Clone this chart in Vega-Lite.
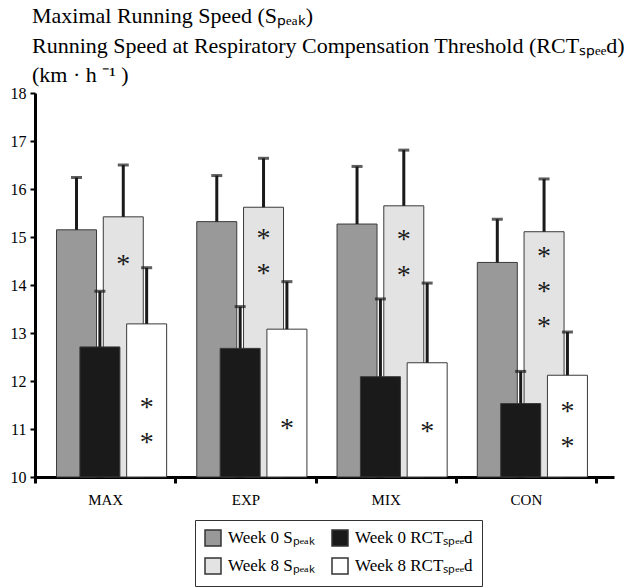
{
  "$schema": "https://vega.github.io/schema/vega-lite/v6.json",
  "width": 579,
  "height": 384,
  "autosize": {"type": "none"},
  "padding": {"left": 35, "top": 93, "right": 19, "bottom": 110},
  "background": "white",
  "config": {
    "view": {"stroke": null},
    "font": "Liberation Serif",
    "axis": {"labelFont": "Liberation Serif", "labelColor": "black", "domainColor": "black", "tickColor": "black", "grid": false, "title": null},
    "legend": {"labelFont": "Liberation Serif", "labelColor": "black"}
  },
  "title": {
    "text": ["Maximal Running Speed (Sₚₑₐₖ)", "Running Speed at Respiratory Compensation Threshold (RCTₛₚₑₑd)", "(km · h ⁻¹ )"],
    "anchor": "start",
    "frame": "group",
    "offset": 4,
    "dx": -3,
    "dy": 6,
    "font": "Liberation Serif",
    "fontSize": 22,
    "fontWeight": "normal",
    "color": "black",
    "lineHeight": 29.5
  },
  "datasets": {
    "bars": [
      {"group": "MAX", "series": "Week 0 Sₚₑₐₖ", "value": 15.15, "upper": 16.24},
      {"group": "MAX", "series": "Week 8 Sₚₑₐₖ", "value": 15.42, "upper": 16.5},
      {"group": "MAX", "series": "Week 0 RCTₛₚₑₑd", "value": 12.71, "upper": 13.87},
      {"group": "MAX", "series": "Week 8 RCTₛₚₑₑd", "value": 13.19, "upper": 14.36},
      {"group": "EXP", "series": "Week 0 Sₚₑₐₖ", "value": 15.32, "upper": 16.28},
      {"group": "EXP", "series": "Week 8 Sₚₑₐₖ", "value": 15.62, "upper": 16.64},
      {"group": "EXP", "series": "Week 0 RCTₛₚₑₑd", "value": 12.68, "upper": 13.55},
      {"group": "EXP", "series": "Week 8 RCTₛₚₑₑd", "value": 13.08, "upper": 14.07},
      {"group": "MIX", "series": "Week 0 Sₚₑₐₖ", "value": 15.27, "upper": 16.47},
      {"group": "MIX", "series": "Week 8 Sₚₑₐₖ", "value": 15.65, "upper": 16.81},
      {"group": "MIX", "series": "Week 0 RCTₛₚₑₑd", "value": 12.09, "upper": 13.71},
      {"group": "MIX", "series": "Week 8 RCTₛₚₑₑd", "value": 12.38, "upper": 14.04},
      {"group": "CON", "series": "Week 0 Sₚₑₐₖ", "value": 14.47, "upper": 15.37},
      {"group": "CON", "series": "Week 8 Sₚₑₐₖ", "value": 15.11, "upper": 16.21},
      {"group": "CON", "series": "Week 0 RCTₛₚₑₑd", "value": 11.53, "upper": 12.2},
      {"group": "CON", "series": "Week 8 RCTₛₚₑₑd", "value": 12.12, "upper": 13.02}
    ],
    "stars": [
      {"group": "MAX", "series": "Week 8 Sₚₑₐₖ", "value": 14.47},
      {"group": "MAX", "series": "Week 8 RCTₛₚₑₑd", "value": 11.5},
      {"group": "MAX", "series": "Week 8 RCTₛₚₑₑd", "value": 10.77},
      {"group": "EXP", "series": "Week 8 Sₚₑₐₖ", "value": 15.03},
      {"group": "EXP", "series": "Week 8 Sₚₑₐₖ", "value": 14.3},
      {"group": "EXP", "series": "Week 8 RCTₛₚₑₑd", "value": 11.07},
      {"group": "MIX", "series": "Week 8 Sₚₑₐₖ", "value": 14.99},
      {"group": "MIX", "series": "Week 8 Sₚₑₐₖ", "value": 14.26},
      {"group": "MIX", "series": "Week 8 RCTₛₚₑₑd", "value": 11.01},
      {"group": "CON", "series": "Week 8 Sₚₑₐₖ", "value": 14.65},
      {"group": "CON", "series": "Week 8 Sₚₑₐₖ", "value": 13.92},
      {"group": "CON", "series": "Week 8 Sₚₑₐₖ", "value": 13.19},
      {"group": "CON", "series": "Week 8 RCTₛₚₑₑd", "value": 11.41},
      {"group": "CON", "series": "Week 8 RCTₛₚₑₑd", "value": 10.69}
    ]
  },
  "encoding": {
    "x": {
      "field": "group", "type": "nominal", "sort": ["MAX", "EXP", "MIX", "CON"],
      "scale": {"paddingInner": 0, "paddingOuter": 0.064, "align": 0},
      "axis": {"labelAngle": 0, "labelFontSize": 15, "tickBand": "extent", "tickSize": 6, "tickWidth": 3, "domainWidth": 3, "labelPadding": 9}
    },
    "xOffset": {
      "field": "series", "type": "nominal",
      "scale": {"domain": ["Week 0 Sₚₑₐₖ", "Week 0 RCTₛₚₑₑd", "Week 8 Sₚₑₐₖ", "Week 8 RCTₛₚₑₑd"], "paddingInner": 0, "paddingOuter": 1.69, "align": 0.638}
    }
  },
  "layer": [
    {
      "data": {"name": "bars"},
      "mark": {"type": "bar", "width": 40, "stroke": "#3a3a3a", "strokeWidth": 1},
      "encoding": {
        "y": {"field": "value", "type": "quantitative", "stack": null,
          "scale": {"domain": [10, 18], "zero": false, "nice": false},
          "axis": {"values": [10, 11, 12, 13, 14, 15, 16, 17, 18], "labelFontSize": 16, "tickSize": 5, "tickWidth": 2, "domainWidth": 3, "labelPadding": 4}},
        "y2": {"datum": 10},
        "color": {
          "field": "series", "type": "nominal",
          "scale": {"domain": ["Week 0 Sₚₑₐₖ", "Week 0 RCTₛₚₑₑd", "Week 8 Sₚₑₐₖ", "Week 8 RCTₛₚₑₑd"], "range": ["#999999", "#1a1a1a", "#e3e3e3", "#ffffff"]},
          "legend": {"orient": "none", "legendX": 160, "legendY": 427, "title": null, "columns": 2, "direction": "horizontal",
            "strokeColor": "#333333", "padding": 9, "symbolType": "square", "symbolSize": 256, "symbolStrokeColor": "#333333", "symbolStrokeWidth": 1.5,
            "labelFontSize": 17, "labelOffset": 6, "rowPadding": 6, "columnPadding": 14, "labelLimit": 200}
        }
      }
    },
    {
      "data": {"name": "bars"},
      "mark": {"type": "rule", "color": "#1a1a1a", "strokeWidth": 3},
      "encoding": {
        "y": {"field": "value", "type": "quantitative"},
        "y2": {"field": "upper"}
      }
    },
    {
      "data": {"name": "bars"},
      "mark": {"type": "tick", "color": "#1a1a1a", "orient": "horizontal", "size": 11, "thickness": 3},
      "encoding": {
        "y": {"field": "upper", "type": "quantitative"}
      }
    },
    {
      "data": {"name": "stars"},
      "mark": {"type": "text", "text": "*", "fontSize": 28, "font": "Liberation Serif", "baseline": "middle", "dy": 3, "color": "#1a1a1a"},
      "encoding": {
        "y": {"field": "value", "type": "quantitative"}
      }
    }
  ]
}
